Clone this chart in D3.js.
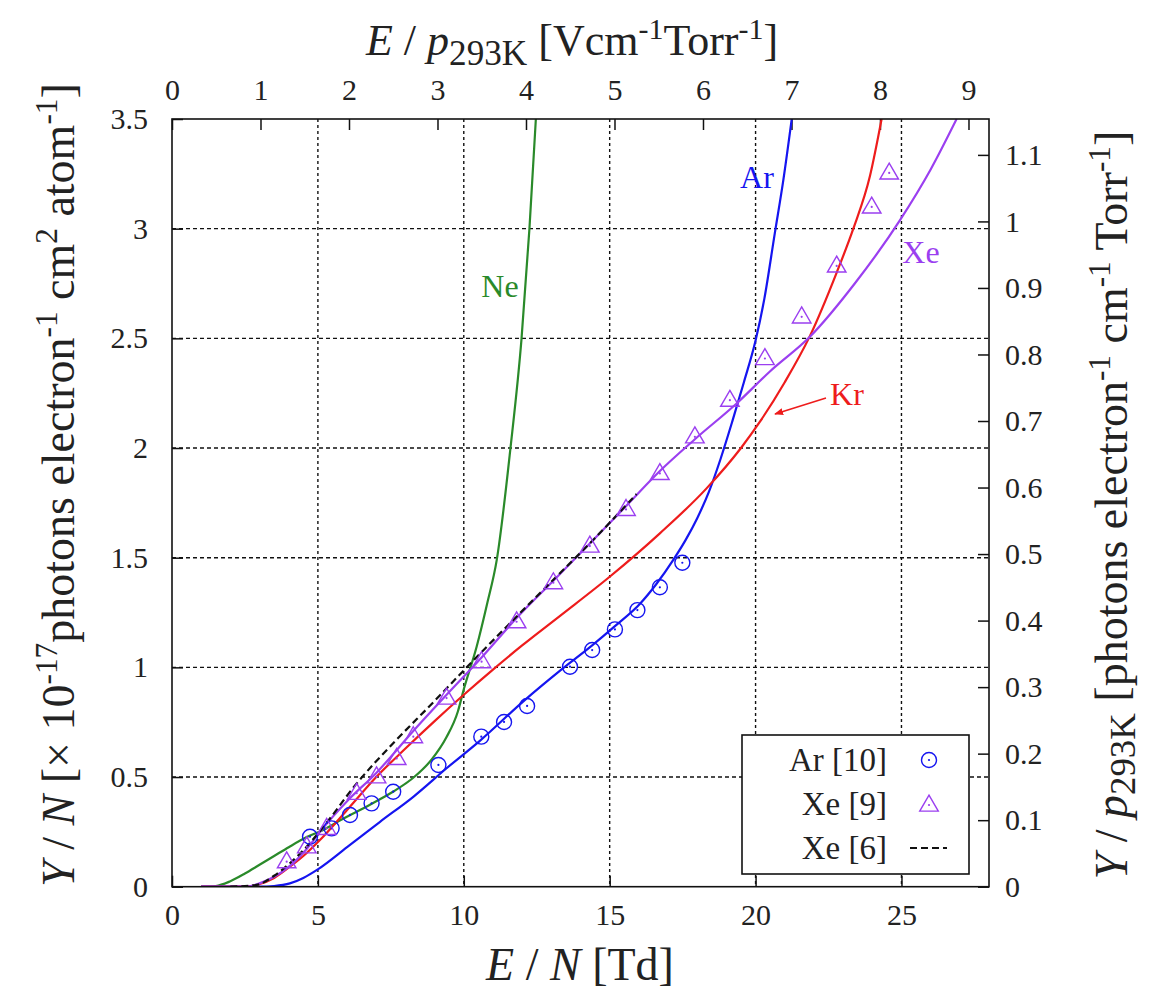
<!DOCTYPE html>
<html><head><meta charset="utf-8">
<script src="https://cdn.jsdelivr.net/npm/d3@7"></script>
<style>
body{margin:0;background:#fff;}
svg text{fill:#222;}
</style></head>
<body><svg id="c" width="1149" height="991"></svg>
<script>
// ---- data ----
const neE = [1.0,1.5,2.0,2.5,3.0,3.5,4.0,4.6,5.2,5.8,6.8,7.6,8.3,8.9,9.4,9.8,10.0,10.44,10.8,11.13,11.6,11.98,12.25,12.47];
const neY = [0,0.003,0.025,0.06,0.1,0.14,0.18,0.225,0.26,0.305,0.375,0.435,0.5,0.58,0.68,0.8,0.9,1.094,1.29,1.49,2.0,2.5,3.0,3.5];
const arE = [1.0,3.0,3.5,4.04,4.5,5.01,6.0,7.13,8.27,9.41,10.55,12.04,13.3,14.4,15.2,16.04,16.6,17.18,17.6,18.0,18.4,18.8,19.2,19.6,20.0,20.3,20.66,20.95,21.24];
const arY = [0,0,0.003,0.015,0.04,0.08,0.18,0.296,0.41,0.54,0.665,0.845,0.985,1.10,1.19,1.29,1.38,1.49,1.58,1.68,1.80,1.95,2.12,2.30,2.49,2.68,2.98,3.22,3.5];
const krE = [1.0,2.5,2.9,3.5,4.04,4.5,5.07,6.0,7.0,8.0,9.0,10.0,11.0,12.0,13.3,15.0,16.72,18.32,19.5,20.15,21.0,21.86,22.78,23.35,23.92,24.32];
const krY = [0,0,0.008,0.04,0.091,0.14,0.213,0.35,0.5,0.63,0.755,0.875,0.99,1.1,1.235,1.413,1.611,1.816,2.0,2.12,2.3,2.51,2.8,3.0,3.24,3.5];
const xeE = [1.0,2.5,3.0,3.5,4.04,4.6,5.19,6.0,7.01,8.27,9.41,10.61,11.81,13.07,14.32,15.56,16.72,17.92,19.35,20.5,21.86,23.4,24.95,26.0,26.89];
const xeY = [0,0,0.015,0.045,0.095,0.17,0.27,0.39,0.52,0.71,0.875,1.045,1.225,1.395,1.565,1.735,1.895,2.04,2.203,2.35,2.507,2.75,3.039,3.27,3.5];
const xe6E = [2.0,2.9,3.5,4.04,4.6,5.19,6.33,7.58,8.95,10.1,11.5,13.0,14.5,15.92];
const xe6Y = [0,0.008,0.05,0.107,0.18,0.273,0.471,0.654,0.84,1.0,1.19,1.39,1.59,1.79];
const arPtsE = [4.73,5.47,6.1,6.84,7.58,9.13,10.6,11.38,12.17,13.64,14.4,15.18,15.95,16.72,17.49];
const arPtsY = [0.228,0.266,0.327,0.38,0.433,0.555,0.684,0.751,0.824,1.003,1.079,1.173,1.261,1.365,1.477];
const xePtsE = [3.93,4.62,5.3,6.33,7.01,7.7,8.27,9.41,10.61,11.81,13.07,14.32,15.56,16.72,17.92,19.12,20.32,21.58,22.78,23.98,24.58];
const xePtsY = [0.114,0.182,0.266,0.426,0.501,0.585,0.684,0.86,1.026,1.208,1.386,1.553,1.72,1.884,2.051,2.218,2.408,2.598,2.83,3.099,3.254];
const bottomTicks = [0,5,10,15,20,25];
const topTicks = [0,1,2,3,4,5,6,7,8,9];
const leftTicks = [0,0.5,1,1.5,2,2.5,3,3.5];
const rightTicks = [0,0.1,0.2,0.3,0.4,0.5,0.6,0.7,0.8,0.9,1,1.1];
const tdPerVcmTorr = 3.033;      // E/N [Td] per E/p293K [V/cm/Torr]
const yp2PerYN = 0.3297;         // Y/p293K per Y/N (1e-17)
const legendNames = ["Ar [10]","Xe [9]","Xe [6]"];

// ---- layout ----
const FONT = "'Liberation Serif','Liberation Sans',sans-serif";
const L=172, R=989, T=119, B=886.7;
const svg = d3.select("#c").attr("font-family",FONT);
const x = d3.scaleLinear().domain([0,28]).range([L,R]);
const y = d3.scaleLinear().domain([0,3.5]).range([B,T]);
const x2 = d3.scaleLinear().domain([0,28/tdPerVcmTorr]).range([L,R]);
const y2 = d3.scaleLinear().domain([0,3.5*yp2PerYN]).range([B,T]);

const col = {ne:"#2a8a2a", ar:"#1515f0", kr:"#ee1c1c", xe:"#9b3ff0"};

svg.append("defs").append("clipPath").attr("id","clip")
  .append("rect").attr("x",L).attr("y",T).attr("width",R-L).attr("height",B-T);
const mk = svg.append("defs").append("marker").attr("id","arrow")
  .attr("viewBox","0 0 10 10").attr("refX",9).attr("refY",5)
  .attr("markerWidth",6).attr("markerHeight",6).attr("orient","auto");
mk.append("path").attr("d","M0,1 L10,5 L0,9 Z").attr("fill",col.kr);

// grid
const g = svg.append("g");
g.selectAll(".vg").data(bottomTicks.filter(d=>d>0)).join("line")
  .attr("x1",d=>x(d)).attr("x2",d=>x(d)).attr("y1",T).attr("y2",B)
  .attr("stroke","#111").attr("stroke-width",1.4).attr("stroke-dasharray","3,3");
g.selectAll(".hg").data(leftTicks.filter(d=>d>0&&d<3.5)).join("line")
  .attr("y1",d=>y(d)).attr("y2",d=>y(d)).attr("x1",L).attr("x2",R)
  .attr("stroke","#111").attr("stroke-width",1.4).attr("stroke-dasharray","4,3");

// axes
const fs = 30;
function styleAxis(sel){
  sel.attr("font-family",FONT);
  sel.select(".domain").remove();
  sel.selectAll("line").attr("stroke","#111").attr("stroke-width",1.5);
  sel.selectAll("text").attr("font-size",fs).attr("font-family",FONT).attr("fill","#222");
}
svg.append("g").attr("transform",`translate(0,${B})`)
  .call(d3.axisBottom(x).tickValues(bottomTicks).tickFormat(d3.format("~g")).tickSizeInner(-11).tickSizeOuter(0).tickPadding(17))
  .call(styleAxis);
svg.append("g").attr("transform",`translate(0,${T})`)
  .call(d3.axisTop(x2).tickValues(topTicks).tickFormat(d3.format("~g")).tickSizeInner(-11).tickSizeOuter(0).tickPadding(19))
  .call(styleAxis);
svg.append("g").attr("transform",`translate(${L},0)`)
  .call(d3.axisLeft(y).tickValues(leftTicks).tickFormat(d3.format("~g")).tickSizeInner(-11).tickSizeOuter(0).tickPadding(24))
  .call(styleAxis);
svg.append("g").attr("transform",`translate(${R},0)`)
  .call(d3.axisRight(y2).tickValues(rightTicks).tickFormat(d3.format("~g")).tickSizeInner(-11).tickSizeOuter(0).tickPadding(16))
  .call(styleAxis);

// curves
const line = d3.line().x(d=>x(d[0])).y(d=>y(d[1])).curve(d3.curveMonotoneX);
const zip = (a,b)=>a.map((v,i)=>[v,b[i]]);
const cg = svg.append("g").attr("clip-path","url(#clip)");
[[neE,neY,col.ne],[arE,arY,col.ar],[krE,krY,col.kr],[xeE,xeY,col.xe]].forEach(([e,v,c])=>{
  cg.append("path").datum(zip(e,v)).attr("d",line).attr("fill","none").attr("stroke",c).attr("stroke-width",2.2);
});
cg.append("path").datum(zip(xe6E,xe6Y)).attr("d",line).attr("fill","none")
  .attr("stroke","#111").attr("stroke-width",2.2).attr("stroke-dasharray","7,4");

// markers
const triPath = s => `M0,${-s*0.62} L${s*0.58},${s*0.38} L${-s*0.58},${s*0.38} Z`;
function circleMark(sel,cx,cy){
  sel.append("circle").attr("cx",cx).attr("cy",cy).attr("r",7.5).attr("fill","none").attr("stroke",col.ar).attr("stroke-width",1.4);
  sel.append("circle").attr("cx",cx).attr("cy",cy).attr("r",1.1).attr("fill",col.ar);
}
function triMark(sel,cx,cy){
  sel.append("path").attr("transform",`translate(${cx},${cy})`).attr("d",triPath(16)).attr("fill","none").attr("stroke",col.xe).attr("stroke-width",1.4);
  sel.append("circle").attr("cx",cx).attr("cy",cy).attr("r",1.1).attr("fill",col.xe);
}
const mg = svg.append("g");
zip(arPtsE,arPtsY).forEach(d=>circleMark(mg,x(d[0]),y(d[1])));
zip(xePtsE,xePtsY).forEach(d=>triMark(mg,x(d[0]),y(d[1])));

// frame
svg.append("rect").attr("x",L).attr("y",T).attr("width",R-L).attr("height",B-T)
  .attr("fill","none").attr("stroke","#111").attr("stroke-width",1.6);

// curve labels
const lab = (t,px,py,c)=>svg.append("text").attr("x",px).attr("y",py).attr("text-anchor","middle")
  .attr("dominant-baseline","central").attr("font-size",32).style("fill",c).text(t);
lab("Ne",500,286,col.ne);
lab("Ar",757,177,col.ar);
lab("Xe",921,252,col.xe);
lab("Kr",847,394,col.kr);
svg.append("line").attr("x1",826).attr("y1",398).attr("x2",775).attr("y2",414)
  .attr("stroke",col.kr).attr("stroke-width",1.5).attr("marker-end","url(#arrow)");

// legend
const lgX=742, lgY=735, lgW=227, lgH=139;
svg.append("rect").attr("x",lgX).attr("y",lgY).attr("width",lgW).attr("height",lgH)
  .attr("fill","#fff").attr("stroke","#111").attr("stroke-width",1.6);
const rows=[760,804,848];
legendNames.forEach((n,i)=>{
  svg.append("text").attr("x",887).attr("y",rows[i]).attr("text-anchor","end")
    .attr("dominant-baseline","central").attr("font-size",33).text(n);
});
circleMark(svg,929,rows[0]);
triMark(svg,929,rows[1]+1);
svg.append("line").attr("x1",910).attr("x2",947).attr("y1",rows[2]).attr("y2",rows[2])
  .attr("stroke","#111").attr("stroke-width",2.2).attr("stroke-dasharray","7,4");

// axis titles
function makeTitle(sz){
  const sd = sz*0.36, bd = sz*0.22;
  return {
    sup:(t,s)=>t.append("tspan").attr("font-size",sz*0.68).attr("dy",-sd).text(s),
    base:(t,s)=>t.append("tspan").attr("dy",sd).text(s),
    sub:(t,s)=>t.append("tspan").attr("font-size",sz*0.8).attr("dy",bd).text(s),
    unsub:(t,s)=>t.append("tspan").attr("dy",-bd).text(s)
  };
}

const bt = svg.append("text").attr("x",580).attr("y",980).attr("text-anchor","middle").attr("font-size",46);
bt.append("tspan").attr("font-style","italic").text("E");
bt.append("tspan").text(" / ");
bt.append("tspan").attr("font-style","italic").text("N");
bt.append("tspan").text(" [Td]");

{
const f = makeTitle(44);
const tt = svg.append("text").attr("x",572).attr("y",55).attr("text-anchor","middle").attr("font-size",44);
tt.append("tspan").attr("font-style","italic").text("E");
tt.append("tspan").text(" / ");
tt.append("tspan").attr("font-style","italic").text("p");
f.sub(tt,"293K"); f.unsub(tt," [Vcm");
f.sup(tt,"-1"); f.base(tt,"Torr"); f.sup(tt,"-1"); f.base(tt,"]");
}
{
const f = makeTitle(46);
const lt = svg.append("text").attr("transform","translate(74,485) rotate(-90)").attr("text-anchor","middle").attr("font-size",46);
lt.append("tspan").attr("font-style","italic").text("Y");
lt.append("tspan").text(" / ");
lt.append("tspan").attr("font-style","italic").text("N");
lt.append("tspan").text(" [× 10");
f.sup(lt,"-17"); f.base(lt,"photons electron"); f.sup(lt,"-1"); f.base(lt," cm"); f.sup(lt,"2"); f.base(lt," atom"); f.sup(lt,"-1"); f.base(lt,"]");
}
{
const f = makeTitle(46);
const rt = svg.append("text").attr("transform","translate(1127,505) rotate(-90)").attr("text-anchor","middle").attr("font-size",46);
rt.append("tspan").attr("font-style","italic").text("Y");
rt.append("tspan").text(" / ");
rt.append("tspan").attr("font-style","italic").text("p");
rt.append("tspan").attr("font-size",46*0.8).attr("dy",8).text("293K");
rt.append("tspan").attr("dy",-8).text(" [photons electron");
f.sup(rt,"-1"); f.base(rt," cm"); f.sup(rt,"-1"); f.base(rt," Torr"); f.sup(rt,"-1"); f.base(rt,"]");
}
</script></body></html>
